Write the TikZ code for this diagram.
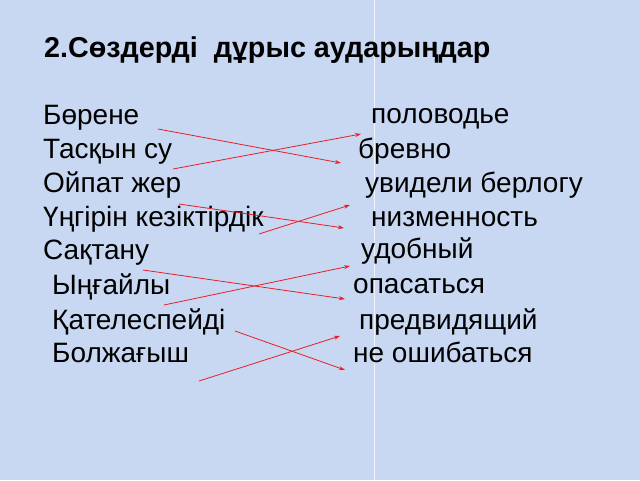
\documentclass[tikz,border=0pt]{standalone}
\usepackage{fontspec}
\setmainfont{Liberation Sans}
\usetikzlibrary{arrows.meta}
\definecolor{bgblue}{RGB}{200,216,243}
\definecolor{arrred}{RGB}{232,30,40}
\begin{document}
\begin{tikzpicture}[x=1pt,y=-1pt,
  word/.style={anchor=base west,inner sep=0pt,font=\fontsize{28}{32}\selectfont},
  title/.style={anchor=base west,inner sep=0pt,font=\fontsize{28.7}{33}\selectfont\bfseries},
  link/.style={draw=arrred,line width=0.8pt,-{Stealth[length=6pt,width=4pt]}}]
\fill[bgblue] (0,0) rectangle (640,480);
\useasboundingbox (0,0) rectangle (640,480);
\draw[white,opacity=0.7,line width=0.8pt] (374.5,0) -- (374.5,480);
\node[title] (t) at (44,57) {2.Сөздерді\ \ дұрыс аударыңдар};
% left column
\node[word] (l1) at (43,124) {Бөрене};
\node[word] (l2) at (43,158) {Тасқын су};
\node[word] (l3) at (43,192) {Ойпат жер};
\node[word] (l4) at (43,226) {Үңгірін кезіктірдік};
\node[word] (l5) at (43,259) {Сақтану};
\node[word] (l6) at (52,294) {Ыңғайлы};
\node[word] (l7) at (52,329) {Қателеспейді};
\node[word] (l8) at (52,362) {Болжағыш};
% right column
\node[word] (r1) at (371,123) {половодье};
\node[word] (r2) at (358,158) {бревно};
\node[word] (r3) at (365,192) {увидели берлогу};
\node[word] (r4) at (371,226) {низменность};
\node[word] (r5) at (361,258) {удобный};
\node[word] (r6) at (353,293) {опасаться};
\node[word] (r7) at (359,329) {предвидящий};
\node[word] (r8) at (353,362) {не ошибаться};
% arrow end points
\coordinate (a1) at (158,129); \coordinate (b1) at (341,163);
\coordinate (a2) at (173,169); \coordinate (b2) at (361,134);
\coordinate (a3) at (179,204); \coordinate (b3) at (344,228);
\coordinate (a4) at (259,234); \coordinate (b4) at (350,205);
\coordinate (a5) at (143,270); \coordinate (b5) at (345,299);
\coordinate (a6) at (164,305); \coordinate (b6) at (350,266);
\coordinate (a7) at (235,331); \coordinate (b7) at (345,370);
\coordinate (a8) at (199,381); \coordinate (b8) at (340,336);
\foreach \i in {1,...,8} \draw[link] (a\i) -- (b\i);
\end{tikzpicture}
\end{document}
